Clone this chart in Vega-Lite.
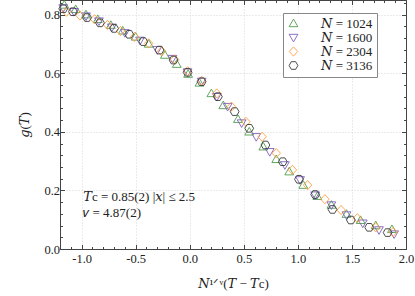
{
  "$schema": "https://vega.github.io/schema/vega-lite/v6.json",
  "width": 346,
  "height": 249,
  "autosize": {"type": "none"},
  "padding": {"left": 60, "top": 0, "right": 9, "bottom": 47},
  "background": "white",
  "config": {
    "view": {"stroke": "#444", "strokeWidth": 1},
    "font": "Liberation Serif, DejaVu Serif, serif",
    "axis": {
      "domainColor": "#444", "tickColor": "#444", "labelColor": "#222", "titleColor": "#222",
      "labelFont": "Liberation Serif, DejaVu Serif, serif", "titleFont": "Liberation Serif, DejaVu Serif, serif",
      "labelFontSize": 12.5, "titleFontSize": 13, "titleFontWeight": "normal",
      "gridColor": "#cccccc", "gridDash": [1, 2], "gridWidth": 0.8
    },
    "legend": {"labelFont": "Liberation Serif, DejaVu Serif, serif", "symbolSize": 64}
  },
  "datasets": {
    "points": [
      {"N": "1024", "x": -1.16, "g": 0.833}, {"N": "1024", "x": -1.055, "g": 0.818}, {"N": "1024", "x": -0.96, "g": 0.8},
      {"N": "1024", "x": -0.85, "g": 0.784}, {"N": "1024", "x": -0.73, "g": 0.764}, {"N": "1024", "x": -0.62, "g": 0.745},
      {"N": "1024", "x": -0.5, "g": 0.724}, {"N": "1024", "x": -0.38, "g": 0.7}, {"N": "1024", "x": -0.23, "g": 0.662},
      {"N": "1024", "x": -0.12, "g": 0.631}, {"N": "1024", "x": -0.015, "g": 0.597}, {"N": "1024", "x": 0.09, "g": 0.567},
      {"N": "1024", "x": 0.2, "g": 0.531}, {"N": "1024", "x": 0.31, "g": 0.49}, {"N": "1024", "x": 0.446, "g": 0.443},
      {"N": "1024", "x": 0.55, "g": 0.4}, {"N": "1024", "x": 0.68, "g": 0.349}, {"N": "1024", "x": 0.8, "g": 0.306},
      {"N": "1024", "x": 0.92, "g": 0.264}, {"N": "1024", "x": 1.05, "g": 0.218}, {"N": "1024", "x": 1.18, "g": 0.18},
      {"N": "1024", "x": 1.31, "g": 0.15}, {"N": "1024", "x": 1.45, "g": 0.119}, {"N": "1024", "x": 1.58, "g": 0.098},
      {"N": "1024", "x": 1.72, "g": 0.08}, {"N": "1024", "x": 1.87, "g": 0.067},
      {"N": "1600", "x": -1.17, "g": 0.823}, {"N": "1600", "x": -1.07, "g": 0.81}, {"N": "1600", "x": -0.96, "g": 0.795},
      {"N": "1600", "x": -0.84, "g": 0.778}, {"N": "1600", "x": -0.72, "g": 0.757}, {"N": "1600", "x": -0.6, "g": 0.738},
      {"N": "1600", "x": -0.46, "g": 0.712}, {"N": "1600", "x": -0.3, "g": 0.68}, {"N": "1600", "x": -0.16, "g": 0.65},
      {"N": "1600", "x": -0.02, "g": 0.604}, {"N": "1600", "x": 0.11, "g": 0.572}, {"N": "1600", "x": 0.25, "g": 0.52},
      {"N": "1600", "x": 0.35, "g": 0.486}, {"N": "1600", "x": 0.48, "g": 0.43}, {"N": "1600", "x": 0.615, "g": 0.383},
      {"N": "1600", "x": 0.74, "g": 0.332}, {"N": "1600", "x": 0.88, "g": 0.287}, {"N": "1600", "x": 1.02, "g": 0.236},
      {"N": "1600", "x": 1.16, "g": 0.184}, {"N": "1600", "x": 1.31, "g": 0.15}, {"N": "1600", "x": 1.45, "g": 0.116},
      {"N": "1600", "x": 1.6, "g": 0.088}, {"N": "1600", "x": 1.75, "g": 0.065}, {"N": "1600", "x": 1.89, "g": 0.051},
      {"N": "2304", "x": -1.14, "g": 0.81}, {"N": "2304", "x": -1.015, "g": 0.797}, {"N": "2304", "x": -0.88, "g": 0.784},
      {"N": "2304", "x": -0.76, "g": 0.765}, {"N": "2304", "x": -0.64, "g": 0.744}, {"N": "2304", "x": -0.51, "g": 0.724},
      {"N": "2304", "x": -0.38, "g": 0.702}, {"N": "2304", "x": -0.26, "g": 0.675}, {"N": "2304", "x": -0.14, "g": 0.647},
      {"N": "2304", "x": -0.02, "g": 0.607}, {"N": "2304", "x": 0.11, "g": 0.574}, {"N": "2304", "x": 0.25, "g": 0.531},
      {"N": "2304", "x": 0.385, "g": 0.486}, {"N": "2304", "x": 0.52, "g": 0.434}, {"N": "2304", "x": 0.67, "g": 0.383},
      {"N": "2304", "x": 0.8, "g": 0.327}, {"N": "2304", "x": 0.95, "g": 0.27}, {"N": "2304", "x": 1.09, "g": 0.218},
      {"N": "2304", "x": 1.25, "g": 0.17}, {"N": "2304", "x": 1.4, "g": 0.133}, {"N": "2304", "x": 1.55, "g": 0.105},
      {"N": "2304", "x": 1.72, "g": 0.074}, {"N": "2304", "x": 1.88, "g": 0.058},
      {"N": "3136", "x": -1.17, "g": 0.82}, {"N": "3136", "x": -1.08, "g": 0.81}, {"N": "3136", "x": -0.95, "g": 0.79},
      {"N": "3136", "x": -0.83, "g": 0.772}, {"N": "3136", "x": -0.7, "g": 0.753}, {"N": "3136", "x": -0.56, "g": 0.733},
      {"N": "3136", "x": -0.43, "g": 0.708}, {"N": "3136", "x": -0.28, "g": 0.679}, {"N": "3136", "x": -0.15, "g": 0.645},
      {"N": "3136", "x": -0.02, "g": 0.603}, {"N": "3136", "x": 0.11, "g": 0.571}, {"N": "3136", "x": 0.26, "g": 0.52},
      {"N": "3136", "x": 0.415, "g": 0.469}, {"N": "3136", "x": 0.55, "g": 0.412}, {"N": "3136", "x": 0.7, "g": 0.355},
      {"N": "3136", "x": 0.86, "g": 0.298}, {"N": "3136", "x": 1.01, "g": 0.238}, {"N": "3136", "x": 1.16, "g": 0.186},
      {"N": "3136", "x": 1.32, "g": 0.135}, {"N": "3136", "x": 1.49, "g": 0.099}, {"N": "3136", "x": 1.66, "g": 0.074},
      {"N": "3136", "x": 1.83, "g": 0.056}
    ],
    "notes": [
      {"x": -0.985, "g": 0.1785, "label": "𝑇c = 0.85(2)  |𝑥| ≤ 2.5"},
      {"x": -0.985, "g": 0.122, "label": "𝜈  = 4.87(2)"}
    ]
  },
  "layer": [
    {
      "data": {"name": "points"},
      "mark": {"type": "point", "filled": false, "strokeWidth": 0.9, "size": 64, "opacity": 1},
      "encoding": {
        "x": {
          "field": "x", "type": "quantitative",
          "scale": {"domain": [-1.2, 2.0], "nice": false, "zero": false},
          "axis": {
            "orient": "bottom",
            "values": [-1.2, -1.1, -1, -0.9, -0.8, -0.7, -0.6, -0.5, -0.4, -0.3, -0.2, -0.1, 0, 0.1, 0.2, 0.3, 0.4, 0.5, 0.6, 0.7, 0.8, 0.9, 1, 1.1, 1.2, 1.3, 1.4, 1.5, 1.6, 1.7, 1.8, 1.9, 2],
            "labelExpr": "abs(datum.value*2 - round(datum.value*2)) < 0.001 ? replace(format(datum.value, '.1f'), '−', '-') : ''",
            "labelFlush": false, "labelOverlap": false,
            "tickSize": {"condition": {"test": "abs(datum.value*2 - round(datum.value*2)) < 0.001", "value": -4.5}, "value": -2.5},
            "grid": true,
            "gridOpacity": {"condition": {"test": "abs(datum.value*2 - round(datum.value*2)) < 0.001", "value": 1}, "value": 0},
            "labelPadding": 8,
            "title": "𝑁¹ᐟᵛ(𝑇 − 𝑇c)", "titlePadding": 10
          }
        },
        "y": {
          "field": "g", "type": "quantitative",
          "scale": {"domain": [0, 0.85], "nice": false, "zero": false},
          "axis": {
            "orient": "left",
            "values": [0, 0.04, 0.08, 0.12, 0.16, 0.2, 0.24, 0.28, 0.32, 0.36, 0.4, 0.44, 0.48, 0.52, 0.56, 0.6, 0.64, 0.68, 0.72, 0.76, 0.8, 0.84],
            "labelExpr": "abs(datum.value*5 - round(datum.value*5)) < 0.001 ? format(datum.value, '.1f') : ''",
            "labelOverlap": false, "labelFlush": false,
            "tickSize": {"condition": {"test": "abs(datum.value*5 - round(datum.value*5)) < 0.001", "value": -4.5}, "value": -2.5},
            "grid": true,
            "gridOpacity": {"condition": {"test": "abs(datum.value*5 - round(datum.value*5)) < 0.001", "value": 1}, "value": 0},
            "labelPadding": 5,
            "title": "𝑔(𝑇)", "titlePadding": 12
          }
        },
        "color": {
          "field": "N", "type": "nominal",
          "scale": {"domain": ["1024", "1600", "2304", "3136"], "range": ["#4f9e4f", "#8060c0", "#ff9f40", "#3a3a3a"]},
          "legend": {
            "title": null, "orient": "none", "legendX": 223, "legendY": 13, "direction": "vertical",
            "padding": 4, "strokeColor": "#888", "fillColor": "white", "cornerRadius": 0,
            "symbolSize": 64, "symbolStrokeWidth": 0.9, "labelOffset": 21, "rowPadding": -1,
            "labelFontSize": 13, "labelColor": "#222",
            "labelExpr": "'𝑁 = ' + datum.label"
          }
        },
        "shape": {
          "field": "N", "type": "nominal",
          "scale": {"domain": ["1024", "1600", "2304", "3136"], "range": ["M0,-1.1L1.1,0.8L-1.1,0.8Z", "M0,1.1L1.1,-0.8L-1.1,-0.8Z", "M0,-1.15L1.05,0L0,1.15L-1.05,0Z", "M-0.55,-0.95L0.55,-0.95L1.1,0L0.55,0.95L-0.55,0.95L-1.1,0Z"]},
          "legend": {
            "title": null, "orient": "none", "legendX": 223, "legendY": 13, "direction": "vertical",
            "padding": 4, "strokeColor": "#888", "fillColor": "white", "cornerRadius": 0,
            "symbolSize": 64, "symbolStrokeWidth": 0.9, "labelOffset": 21, "rowPadding": -1,
            "labelFontSize": 13, "labelColor": "#222",
            "labelExpr": "'𝑁 = ' + datum.label"
          }
        }
      }
    },
    {
      "data": {"name": "notes"},
      "mark": {"type": "text", "align": "left", "baseline": "middle", "fontSize": 13, "font": "Liberation Serif, DejaVu Serif, serif", "color": "#222"},
      "encoding": {
        "x": {
          "field": "x", "type": "quantitative",
          "axis": {
            "orient": "top", "labels": false, "title": null, "grid": false, "domain": true,
            "values": [-1.2, -1.1, -1, -0.9, -0.8, -0.7, -0.6, -0.5, -0.4, -0.3, -0.2, -0.1, 0, 0.1, 0.2, 0.3, 0.4, 0.5, 0.6, 0.7, 0.8, 0.9, 1, 1.1, 1.2, 1.3, 1.4, 1.5, 1.6, 1.7, 1.8, 1.9, 2],
            "tickSize": {"condition": {"test": "abs(datum.value*2 - round(datum.value*2)) < 0.001", "value": -4.5}, "value": -2.5}
          }
        },
        "y": {
          "field": "g", "type": "quantitative",
          "axis": {
            "orient": "right", "labels": false, "title": null, "grid": false, "domain": true,
            "values": [0, 0.04, 0.08, 0.12, 0.16, 0.2, 0.24, 0.28, 0.32, 0.36, 0.4, 0.44, 0.48, 0.52, 0.56, 0.6, 0.64, 0.68, 0.72, 0.76, 0.8, 0.84],
            "tickSize": {"condition": {"test": "abs(datum.value*5 - round(datum.value*5)) < 0.001", "value": -4.5}, "value": -2.5}
          }
        },
        "text": {"field": "label"}
      }
    }
  ]
}
